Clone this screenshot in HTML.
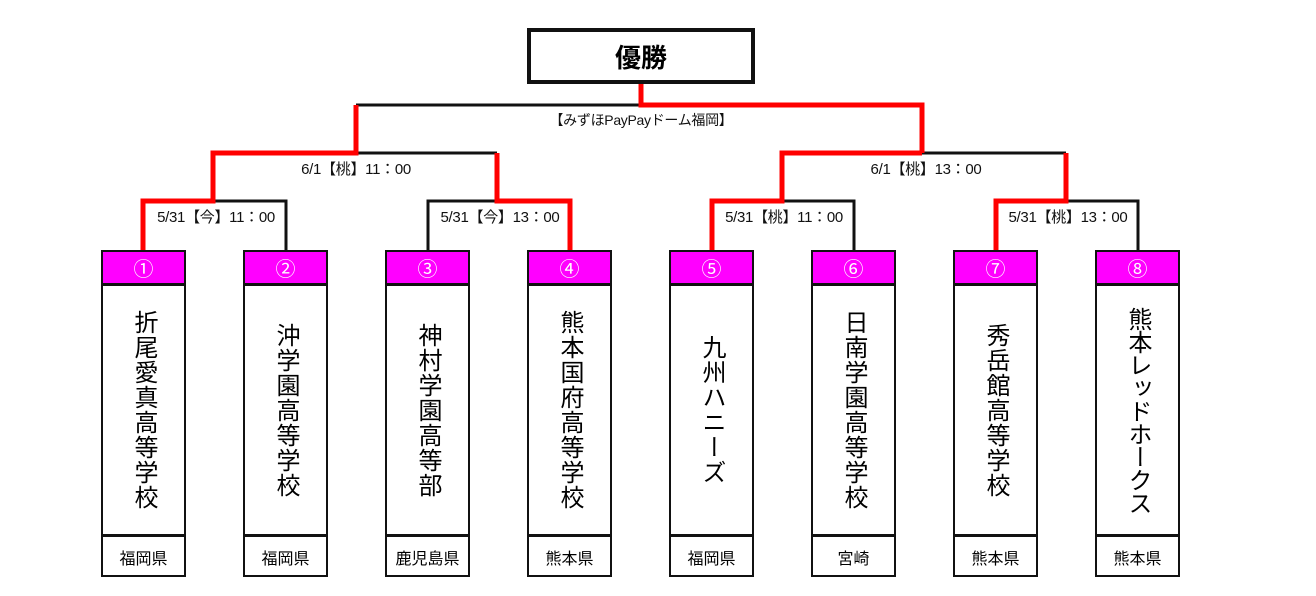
<!DOCTYPE html>
<html><head><meta charset="utf-8"><style>
body{margin:0;width:1316px;height:596px;background:#fff;position:relative;overflow:hidden;font-family:"Liberation Sans","Noto Sans CJK JP",sans-serif;}
.win{position:absolute;left:527px;top:28px;width:220px;height:48px;border:4px solid #111;display:flex;align-items:center;justify-content:center;font-size:26px;font-weight:bold;}
.team{position:absolute;top:250px;width:81px;height:323px;border:2px solid #111;}
.hd{height:31px;background:#f0f;border-bottom:3px solid #111;color:#fff;font-size:20px;display:flex;align-items:center;justify-content:center;}
.bd{height:248px;border-bottom:3px solid #111;display:flex;align-items:center;justify-content:center;}
.bd span{writing-mode:vertical-rl;font-size:24px;letter-spacing:1px;color:#000;}
.pf{height:39px;display:flex;align-items:center;justify-content:center;font-size:16px;}
.lb{position:absolute;font-size:15px;color:#111;white-space:nowrap;transform:translateX(-50%);letter-spacing:-0.3px;}
</style></head><body>
<svg width="1316" height="596" style="position:absolute;left:0;top:0">
<g fill="none" stroke="#111" stroke-width="3">
<path d="M356 105H641"/>
<path d="M356 153H497"/>
<path d="M922 153H1066"/>
<path d="M213 201H286V250"/>
<path d="M428 250V201H497"/>
<path d="M782 201H854V250"/>
<path d="M1066 201H1138V250"/>
</g>
<g fill="none" stroke="#f00" stroke-width="5">
<path d="M641 84V105H922V153"/>
<path d="M356 105V153H213V201H143V250"/>
<path d="M497 153V201H570V250"/>
<path d="M922 153H782V201H712V250"/>
<path d="M1066 153V201H996V250"/>
</g>
</svg>
<div class="win">優勝</div>
<div class="lb" style="left:641px;top:110px;font-size:14px">【みずほPayPayドーム福岡】</div>
<div class="lb" style="left:356px;top:158px">6/1【桃】11：00</div>
<div class="lb" style="left:926px;top:158px">6/1【桃】13：00</div>
<div class="lb" style="left:216px;top:206px">5/31【今】11：00</div>
<div class="lb" style="left:500px;top:206px">5/31【今】13：00</div>
<div class="lb" style="left:784px;top:206px">5/31【桃】11：00</div>
<div class="lb" style="left:1068px;top:206px">5/31【桃】13：00</div>

<div class="team" style="left:101px"><div class="hd">①</div><div class="bd"><span>折尾愛真高等学校</span></div><div class="pf">福岡県</div></div>
<div class="team" style="left:243px"><div class="hd">②</div><div class="bd"><span>沖学園高等学校</span></div><div class="pf">福岡県</div></div>
<div class="team" style="left:385px"><div class="hd">③</div><div class="bd"><span>神村学園高等部</span></div><div class="pf">鹿児島県</div></div>
<div class="team" style="left:527px"><div class="hd">④</div><div class="bd"><span>熊本国府高等学校</span></div><div class="pf">熊本県</div></div>
<div class="team" style="left:669px"><div class="hd">⑤</div><div class="bd"><span>九州ハニーズ</span></div><div class="pf">福岡県</div></div>
<div class="team" style="left:811px"><div class="hd">⑥</div><div class="bd"><span>日南学園高等学校</span></div><div class="pf">宮崎</div></div>
<div class="team" style="left:953px"><div class="hd">⑦</div><div class="bd"><span>秀岳館高等学校</span></div><div class="pf">熊本県</div></div>
<div class="team" style="left:1095px"><div class="hd">⑧</div><div class="bd"><span style="letter-spacing:-1px">熊本レッドホークス</span></div><div class="pf">熊本県</div></div>
</body></html>
